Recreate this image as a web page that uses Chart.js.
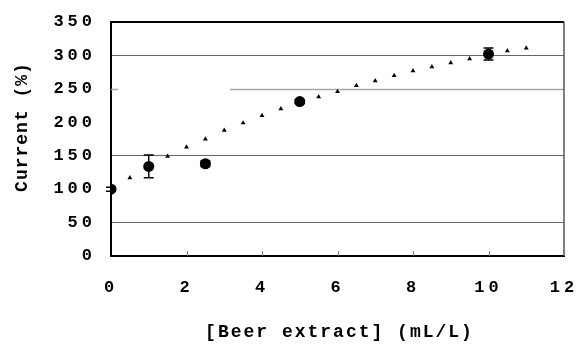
<!DOCTYPE html>
<html>
<head>
<meta charset="utf-8">
<script src="https://cdn.jsdelivr.net/npm/chart.js@4/dist/chart.umd.min.js"></script>
<style>
  body { margin: 0; background: #fff; }
</style>
</head>
<body>
<canvas id="chart" width="577" height="346"></canvas>
<script>
// measured current (mean and error) at each beer extract concentration
const concMeasured = [0, 1, 2.5, 5, 10];
const currentMeasured = [100, 134, 138, 231, 302];
const currentError = [3, 17, 4, 3, 9];

// fitted curve
const concFit = [0, 0.5, 1, 1.5, 2, 2.5, 3, 3.5, 4, 4.5, 5, 5.5, 6, 6.5, 7, 7.5, 8, 8.5, 9, 9.5, 10, 10.5, 11];
const currentFit = [100, 117, 133, 149, 163, 175, 188, 199, 210, 220, 229, 238, 246, 255, 262, 270, 277, 283, 289, 295, 301, 307, 311];

// y values that get a full grid line
const gridValues = [300, 150, 50];
const halfGridValue = 250;
const halfGridStart = 3.15;

const xTitle = "[Beer extract] (mL/L)";
const yTitle = "Current (%)";

const FONT = "'Liberation Mono', 'DejaVu Sans Mono', monospace";

const toPoints = (xs, ys) => xs.map((x, i) => ({ x: x, y: ys[i] }));

const framePlugin = {
  id: "frame",
  beforeLayout(chart) {
    chart.ctx.letterSpacing = "4px";
  },
  beforeDraw(chart) {
    chart.ctx.letterSpacing = "4px";
  },
  beforeDatasetsDraw(chart) {
    const ctx = chart.ctx;
    const area = chart.chartArea;
    const xs = chart.scales.x;
    const ys = chart.scales.y;
    ctx.save();
    // partial 250 line
    const y250 = Math.round(ys.getPixelForValue(halfGridValue)) + 0.5;
    ctx.strokeStyle = "#a8a8a8";
    ctx.lineWidth = 1.5;
    ctx.beginPath();
    ctx.moveTo(area.left, y250);
    ctx.lineTo(area.left + 7, y250);
    ctx.moveTo(xs.getPixelForValue(halfGridStart), y250);
    ctx.lineTo(area.right, y250);
    ctx.stroke();
    // small inward ticks on the x axis
    ctx.strokeStyle = "#777";
    ctx.lineWidth = 1;
    ctx.beginPath();
    xs.ticks.forEach(t => {
      if (t.value <= xs.min || t.value >= xs.max) return;
      const px = Math.round(xs.getPixelForValue(t.value)) + 0.5;
      ctx.moveTo(px, area.bottom);
      ctx.lineTo(px, area.bottom - 5);
    });
    ctx.stroke();
    // top and right edges of the box
    ctx.strokeStyle = "#000";
    ctx.lineWidth = 2;
    ctx.beginPath();
    ctx.moveTo(area.left, area.top);
    ctx.lineTo(area.right, area.top);
    ctx.stroke();
    ctx.strokeStyle = "#555";
    ctx.lineWidth = 1.5;
    ctx.beginPath();
    ctx.moveTo(area.right, area.top);
    ctx.lineTo(area.right, area.bottom);
    ctx.stroke();
    ctx.restore();
  },
  afterDatasetsDraw(chart) {
    // error bars on the measured points
    const ctx = chart.ctx;
    const xs = chart.scales.x;
    const ys = chart.scales.y;
    ctx.save();
    ctx.strokeStyle = "#000";
    ctx.lineWidth = 1.5;
    concMeasured.forEach((c, i) => {
      const px = xs.getPixelForValue(c);
      const top = ys.getPixelForValue(currentMeasured[i] + currentError[i]);
      const bot = ys.getPixelForValue(currentMeasured[i] - currentError[i]);
      ctx.beginPath();
      ctx.moveTo(px, top);
      ctx.lineTo(px, bot);
      ctx.moveTo(px - 5, top);
      ctx.lineTo(px + 5, top);
      ctx.moveTo(px - 5, bot);
      ctx.lineTo(px + 5, bot);
      ctx.stroke();
    });
    ctx.restore();
  },
  afterDraw(chart) {
    const ctx = chart.ctx;
    const area = chart.chartArea;
    ctx.save();
    ctx.fillStyle = "#000";
    ctx.font = "bold 18px " + FONT;
    ctx.textAlign = "center";
    ctx.textBaseline = "middle";
    ctx.letterSpacing = "2px";
    ctx.fillText(xTitle, (area.left + area.right) / 2 + 2, 332);
    ctx.letterSpacing = "1px";
    ctx.translate(22, 127);
    ctx.rotate(-Math.PI / 2);
    ctx.fillText(yTitle, 0, 0);
    ctx.restore();
  }
};

new Chart(document.getElementById("chart"), {
  type: "scatter",
  data: {
    datasets: [
      {
        label: "measured",
        data: toPoints(concMeasured, currentMeasured),
        pointStyle: "circle",
        pointRadius: 5.5,
        backgroundColor: "#000",
        borderColor: "#000",
        borderWidth: 0,
        order: 0
      },
      {
        label: "fit",
        data: toPoints(concFit, currentFit),
        pointStyle: "triangle",
        pointRadius: 2.8,
        backgroundColor: "#000",
        borderColor: "#000",
        borderWidth: 0,
        order: 1
      }
    ]
  },
  options: {
    responsive: false,
    animation: false,
    layout: { padding: { left: 0, top: 22, right: 13, bottom: 0 } },
    plugins: {
      legend: { display: false },
      tooltip: { enabled: false }
    },
    scales: {
      x: {
        type: "linear",
        min: 0,
        max: 12,
        afterFit(scale) {
          scale.height = 90;
          scale.paddingLeft = 0;
          scale.paddingRight = 0;
        },
        ticks: {
          stepSize: 2,
          padding: 22,
          color: "#000",
          font: { family: FONT, size: 17, weight: "bold" }
        },
        grid: { display: false, drawTicks: false },
        border: { color: "#000", width: 2 }
      },
      y: {
        min: 0,
        max: 350,
        afterFit(scale) {
          scale.width = 111;
          scale.paddingTop = 0;
          scale.paddingBottom = 0;
        },
        ticks: {
          stepSize: 50,
          padding: 15,
          color: "#000",
          font: { family: FONT, size: 17, weight: "bold" }
        },
        grid: {
          drawTicks: false,
          lineWidth: 1,
          color: c => gridValues.includes(c.tick && c.tick.value) ? "#666" : "rgba(0,0,0,0)"
        },
        border: { color: "#000", width: 2 }
      }
    }
  },
  plugins: [framePlugin]
});
</script>
</body>
</html>
